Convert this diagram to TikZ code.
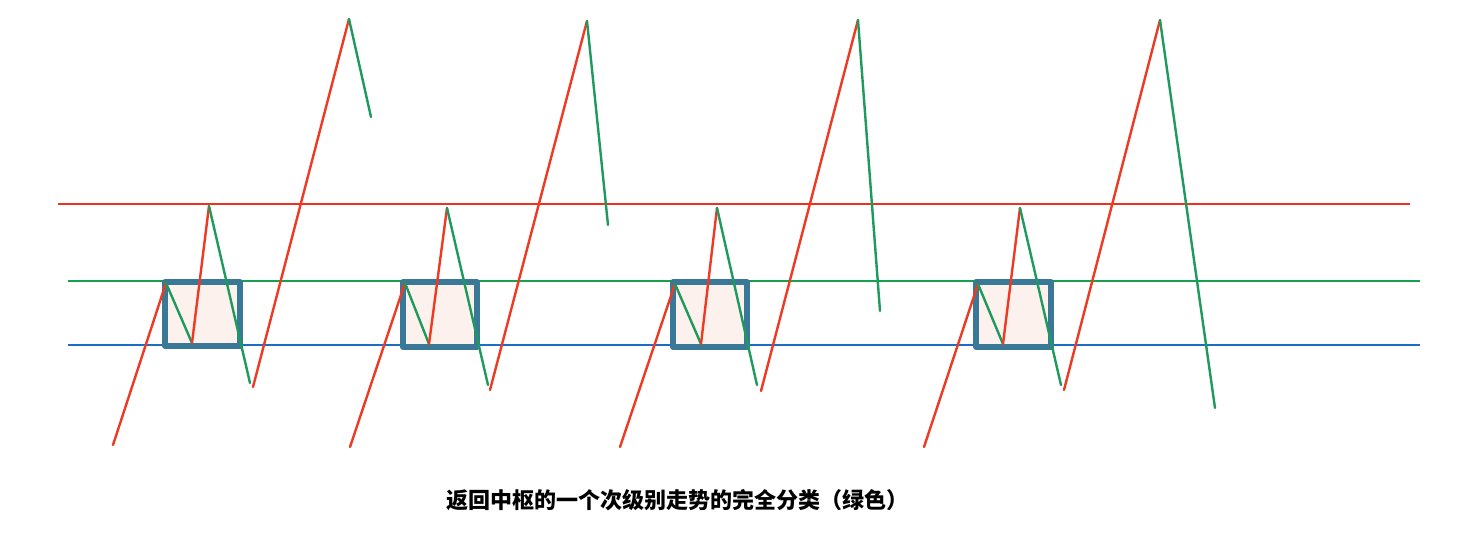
\documentclass[tikz,border=0pt]{standalone}
\usepackage{fontspec}
\newfontfamily\cjk{Noto Sans CJK SC}
\definecolor{upred}{HTML}{EE3A22}
\definecolor{dngreen}{HTML}{1E9A5E}
\definecolor{hred}{HTML}{F0301E}
\definecolor{hgreen}{HTML}{16A050}
\definecolor{hblue}{HTML}{1C6EC4}
\definecolor{boxedge}{HTML}{3A7898}
\definecolor{boxfill}{HTML}{FCF1EC}
\tikzset{
  upseg/.style={draw=upred,line width=1.2pt,line cap=round},
  dnseg/.style={draw=dngreen,line width=1.2pt,line cap=round},
  level/.style={line width=1.4pt},
  zsbox/.style={draw=boxedge,fill=boxfill,line width=2.6pt,line join=round},
  caption/.style={font=\cjk\bfseries\fontsize{11}{12}\selectfont,text=black,inner sep=0pt}
}
\begin{document}
\begin{tikzpicture}[x=0.5pt,y=-0.5pt]
\useasboundingbox (0,0) rectangle (1474,546);
\fill[white] (0,0) rectangle (1474,546);
% level lines
\coordinate (r1) at (58,204); \coordinate (r2) at (1410,204);
\coordinate (g1) at (68,281); \coordinate (g2) at (1420,281);
\coordinate (b1) at (68,345); \coordinate (b2) at (1420,345);
\draw[level,hred] (r1) -- (r2);
\draw[level,hgreen] (g1) -- (g2);
\draw[level,hblue] (b1) -- (b2);
% boxes
\draw[zsbox] (165,282) rectangle (240,346);
\draw[zsbox] (403,282) rectangle (477,347);
\draw[zsbox] (673,282) rectangle (747,347);
\draw[zsbox] (976,282) rectangle (1051,347);
% pattern 1
\coordinate (a0) at (113,445); \coordinate (a1) at (166,283); \coordinate (a2) at (192,343);
\coordinate (a3) at (209,206); \coordinate (a4) at (250,383); \coordinate (a5) at (253,387);
\coordinate (a6) at (349,19); \coordinate (a7) at (371,117);
\draw[upseg] (a0) -- (a1); \draw[dnseg] (a1) -- (a2); \draw[upseg] (a2) -- (a3);
\draw[dnseg] (a3) -- (a4); \draw[upseg] (a5) -- (a6); \draw[dnseg] (a6) -- (a7);
% pattern 2
\coordinate (b0) at (350,447); \coordinate (b1) at (405,283); \coordinate (b2) at (429,344);
\coordinate (b3) at (447,208); \coordinate (b4) at (488,385); \coordinate (b5) at (490,390);
\coordinate (b6) at (587,21); \coordinate (b7) at (608,225);
\draw[upseg] (b0) -- (b1); \draw[dnseg] (b1) -- (b2); \draw[upseg] (b2) -- (b3);
\draw[dnseg] (b3) -- (b4); \draw[upseg] (b5) -- (b6); \draw[dnseg] (b6) -- (b7);
% pattern 3
\coordinate (c0) at (620,447); \coordinate (c1) at (675,284); \coordinate (c2) at (701,344);
\coordinate (c3) at (717,208); \coordinate (c4) at (757,385); \coordinate (c5) at (761,391);
\coordinate (c6) at (858,20); \coordinate (c7) at (880,311);
\draw[upseg] (c0) -- (c1); \draw[dnseg] (c1) -- (c2); \draw[upseg] (c2) -- (c3);
\draw[dnseg] (c3) -- (c4); \draw[upseg] (c5) -- (c6); \draw[dnseg] (c6) -- (c7);
% pattern 4
\coordinate (d0) at (924,447); \coordinate (d1) at (978,284); \coordinate (d2) at (1003,344);
\coordinate (d3) at (1020,208); \coordinate (d4) at (1061,385); \coordinate (d5) at (1064,390);
\coordinate (d6) at (1160,20); \coordinate (d7) at (1215,408);
\draw[upseg] (d0) -- (d1); \draw[dnseg] (d1) -- (d2); \draw[upseg] (d2) -- (d3);
\draw[dnseg] (d3) -- (d4); \draw[upseg] (d5) -- (d6); \draw[dnseg] (d6) -- (d7);
% caption
\node[caption] (cap) at (677,500) {返回中枢的一个次级别走势的完全分类（绿色）};
\end{tikzpicture}
\end{document}
